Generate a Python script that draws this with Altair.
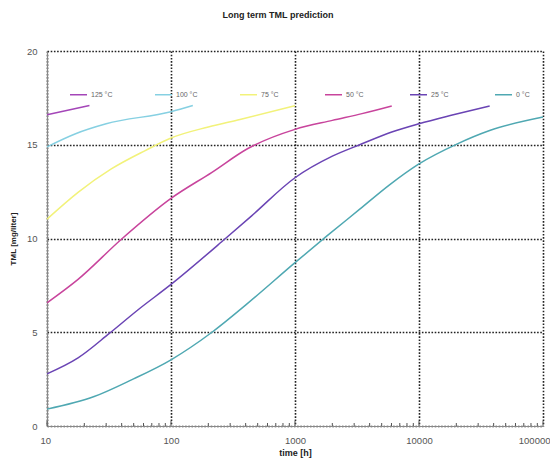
import altair as alt
import pandas as pd

# ---- data ----
series = ["125 °C", "100 °C", "75 °C", "50 °C", "25 °C", "0 °C"]
colors = ["#a446b8", "#86d0e2", "#f2f27a", "#c8449c", "#6a44b4", "#4fa8b2"]

t_125 = [10, 15, 22]
v_125 = [16.6, 16.85, 17.09]

t_100 = [10, 17, 30, 100, 150]
v_100 = [14.89, 15.59, 16.12, 16.76, 17.09]

t_75 = [10, 17.8, 33, 62, 100, 200, 360, 1000]
v_75 = [11.03, 12.46, 13.71, 14.69, 15.36, 15.95, 16.35, 17.08]

t_50 = [10, 17.8, 39.8, 100, 214, 417, 1000, 2000, 3470, 6030]
v_50 = [6.57, 7.82, 9.96, 12.14, 13.53, 14.8, 15.82, 16.3, 16.66, 17.07]

t_25 = [10, 17.8, 32, 54.3, 100, 275, 447, 1000, 2000, 3470, 6030, 10000, 18200, 37150]
v_25 = [2.78, 3.63, 4.95, 6.2, 7.55, 10.0, 11.21, 13.24, 14.39, 15.05, 15.68, 16.12, 16.57, 17.07]

t_0 = [10, 24, 48, 100, 214, 417, 1000, 1820, 3310, 5750, 10000, 20400, 37150, 100000]
v_0 = [0.9, 1.57, 2.46, 3.53, 5.0, 6.55, 8.71, 10.15, 11.55, 12.85, 13.98, 15.05, 15.76, 16.48]

x_ticks = [10, 100, 1000, 10000, 100000]
y_ticks = [0, 5, 10, 15, 20]

times = [t_125, t_100, t_75, t_50, t_25, t_0]
vals = [v_125, v_100, v_75, v_50, v_25, v_0]

rows = []
for name, ts, vs in zip(series, times, vals):
    for i, (t, v) in enumerate(zip(ts, vs)):
        rows.append({"series": name, "time": t, "tml": v, "order": i})
df = pd.DataFrame(rows)

minor = []
for d in x_ticks[:-1]:
    for k in range(2, 10):
        minor.append({"time": d * k, "y0": 0.0, "y1": 0.16})
for d in x_ticks:
    minor.append({"time": d, "y0": 0.0, "y1": 0.28})
mdf = pd.DataFrame(minor)

FONT = "Liberation Sans"

xscale = alt.Scale(type="log", domain=[10, 100000], nice=False)
yscale = alt.Scale(domain=[0, 20], nice=False)

grid_style = dict(
    grid=True,
    gridColor="#222222",
    gridDash=[1.6, 1.6],
    gridWidth=1.6,
)

lines = alt.Chart(df).mark_line(strokeWidth=1.5, interpolate="monotone").encode(
    x=alt.X(
        "time:Q",
        scale=xscale,
        title="time  [h]",
        axis=alt.Axis(
            values=x_ticks,
            format="d",
            ticks=False,
            labelFlush=True,
            labelFlushOffset=7,
            labelPadding=9,
            labelFontSize=9.5,
            labelColor="#555555",
            labelFont=FONT,
            titleFont=FONT,
            titleFontSize=9,
            titleFontWeight="bold",
            titleColor="#222222",
            titlePadding=4,
            domainColor="#888888",
            domainWidth=1.2,
            **grid_style,
        ),
    ),
    y=alt.Y(
        "tml:Q",
        scale=yscale,
        title="TML  [mg/liter]",
        axis=alt.Axis(
            values=y_ticks,
            ticks=False,
            labelPadding=10,
            labelFontSize=9.5,
            labelColor="#555555",
            labelFont=FONT,
            titleFont=FONT,
            titleFontSize=8,
            titleFontWeight="bold",
            titleColor="#222222",
            titlePadding=9,
            domainColor="#888888",
            domainWidth=1.2,
            **grid_style,
        ),
    ),
    color=alt.Color(
        "series:N",
        scale=alt.Scale(domain=series, range=colors),
        sort=series,
        legend=alt.Legend(
            title=None,
            orient="none",
            legendX=22,
            legendY=34,
            direction="horizontal",
            columns=6,
            gridAlign="all",
            columnPadding=39,
            symbolType="stroke",
            symbolSize=289,
            symbolStrokeWidth=1.5,
            labelFontSize=7,
            labelFont=FONT,
            labelColor="#666666",
            labelOffset=3,
        ),
    ),
    detail="series:N",
    order="order:Q",
)

ticks = alt.Chart(mdf).mark_rule(color="#555555", strokeWidth=1).encode(
    x=alt.X("time:Q", scale=xscale),
    y=alt.Y("y0:Q", scale=yscale),
    y2="y1:Q",
)

chart = (
    alt.layer(ticks, lines)
    .properties(
        width=496,
        height=375,
        padding={"left": 39, "top": 43, "right": 7, "bottom": 34},
        autosize=alt.AutoSizeParams(type="none"),
        title=alt.TitleParams(
            "Long term TML prediction",
            font=FONT,
            fontSize=9,
            fontWeight="bold",
            color="#222222",
            offset=26,
            dx=-17,
        ),
        background="white",
    )
    .configure_view(stroke=None)
)

chart.save("out.html", embed_options={"renderer": "svg", "actions": False})
